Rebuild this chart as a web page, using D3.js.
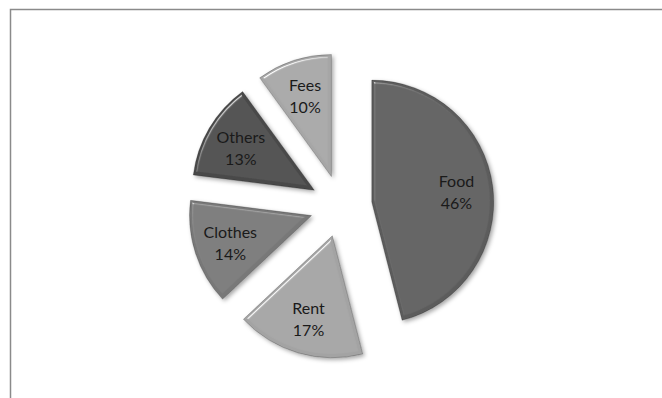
<!DOCTYPE html>
<html>
<head>
<meta charset="utf-8">
<script src="https://cdn.jsdelivr.net/npm/d3@7"></script>
<style>
  body { margin: 0; background: #fff; }
  svg { display: block; }
</style>
</head>
<body>
<div id="chart-area"></div>
<script>
// dados do gráfico
const categories = ["Food", "Rent", "Clothes", "Others", "Fees"]
const values = [46, 17, 14, 13, 10]
const colors = ["#5c5c5c", "#a3a3a3", "#787878", "#484848", "#a6a6a6"]

const width = 662
const height = 398
const cx = 341, cy = 206
const radius = 122
const explode = 31

const svg = d3.select("#chart-area").append("svg")
  .attr("width", width)
  .attr("height", height)

const defs = svg.append("defs")

// efeito de relevo + sombra
const f = defs.append("filter").attr("id", "bevel")
  .attr("x", "-20%").attr("y", "-20%").attr("width", "140%").attr("height", "140%")
f.append("feGaussianBlur").attr("in", "SourceAlpha").attr("stdDeviation", 2).attr("result", "blur")
f.append("feOffset").attr("in", "blur").attr("dx", 1.5).attr("dy", 2).attr("result", "offBlur")
f.append("feFlood").attr("flood-color", "#000").attr("flood-opacity", 0.35).attr("result", "sc")
f.append("feComposite").attr("in", "sc").attr("in2", "offBlur").attr("operator", "in").attr("result", "shadow")
f.append("feGaussianBlur").attr("in", "SourceAlpha").attr("stdDeviation", 1.6).attr("result", "b2")
const spec = f.append("feSpecularLighting").attr("in", "b2")
  .attr("surfaceScale", 3).attr("specularConstant", 1).attr("specularExponent", 40)
  .attr("lighting-color", "#ffffff").attr("result", "spec")
spec.append("feDistantLight").attr("azimuth", 235).attr("elevation", 45)
f.append("feComposite").attr("in", "spec").attr("in2", "SourceAlpha").attr("operator", "in").attr("result", "specIn")
f.append("feComposite").attr("in", "SourceGraphic").attr("in2", "specIn")
  .attr("operator", "arithmetic").attr("k1", 0).attr("k2", 1).attr("k3", 0.6).attr("k4", 0).attr("result", "lit")
const merge = f.append("feMerge")
merge.append("feMergeNode").attr("in", "shadow")
merge.append("feMergeNode").attr("in", "lit")

// moldura
svg.append("rect")
  .attr("x", 10.5).attr("y", 9.5)
  .attr("width", 700).attr("height", 500)
  .attr("fill", "none")
  .attr("stroke", "#8a8a8a")
  .attr("stroke-width", 1.5)

const data = categories.map((c, i) => ({ name: c, value: values[i], color: colors[i] }))

const pie = d3.pie().sort(null).value(d => d.value)
const arc = d3.arc().innerRadius(0).outerRadius(radius)
const labelArc = d3.arc().innerRadius(radius * 0.7).outerRadius(radius * 0.7)

const arcs = pie(data)

const g = svg.append("g").attr("transform", `translate(${cx}, ${cy})`)

const slices = g.selectAll("g.slice")
  .data(arcs)
  .enter().append("g")
  .attr("class", "slice")
  .attr("transform", d => {
    const m = (d.startAngle + d.endAngle) / 2
    return `translate(${explode * Math.sin(m)}, ${-explode * Math.cos(m)})`
  })

slices.append("path")
  .attr("d", arc)
  .attr("fill", d => d.data.color)
  .attr("stroke", "rgba(0,0,0,0.25)")
  .attr("stroke-width", 0.8)
  .attr("filter", "url(#bevel)")

const labels = slices.append("text")
  .attr("transform", d => `translate(${labelArc.centroid(d)})`)
  .attr("text-anchor", "middle")
  .attr("font-family", "Lato, 'Open Sans', sans-serif")
  .attr("font-size", "16px")
  .attr("fill", "#1a1a1a")

labels.append("tspan")
  .attr("x", 0).attr("y", -4)
  .text(d => d.data.name)
labels.append("tspan")
  .attr("x", 0).attr("y", 18)
  .text(d => d.data.value + "%")
</script>
</body>
</html>
